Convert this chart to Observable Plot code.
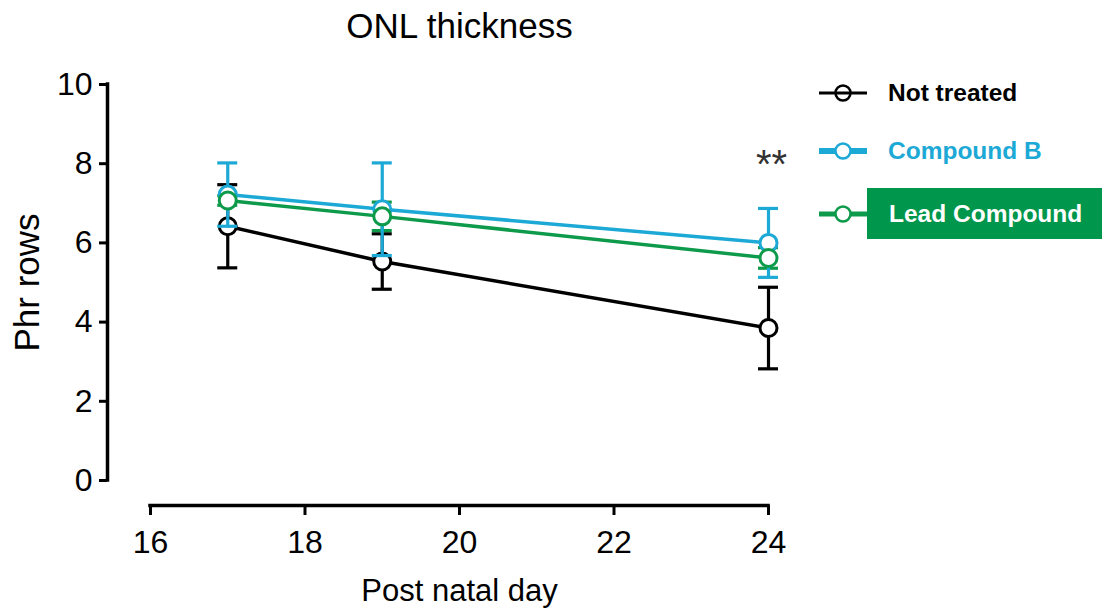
<!DOCTYPE html>
<html>
<head>
<meta charset="utf-8">
<script src="https://cdn.jsdelivr.net/npm/d3@7"></script>
<script src="https://cdn.jsdelivr.net/npm/@observablehq/plot@0.6"></script>
<style>
  html, body { margin: 0; padding: 0; background: #fff; }
  #wrap { position: relative; width: 1102px; height: 609px; font-family: "Liberation Sans", Arial, sans-serif; }
  .lg { position: absolute; font-weight: bold; font-size: 24.5px; height: 30px; line-height: 30px; white-space: nowrap; }
</style>
</head>
<body>
<div id="wrap"></div>
<script>
// ---- data ----
const days = [17, 19, 24];
const notTreatedMean = [6.42, 5.53, 3.85];
const notTreatedErr  = [1.05, 0.70, 1.03];
const compoundBMean  = [7.22, 6.85, 6.00];
const compoundBErr   = [0.80, 1.17, 0.87];
const leadMean       = [7.07, 6.67, 5.62];
const leadErr        = [0.12, 0.36, 0.26];
const seriesNames  = ["Not treated", "Compound B", "Lead Compound"];
const seriesColors = ["#000000", "#1CA9D6", "#0E9A4B"];
const xTicks = [16, 18, 20, 22, 24];
const yTicks = [0, 2, 4, 6, 8, 10];
const xDomain = [16, 24];
const yDomain = [0, 10];
const annotations = [{day: 24, value: 7.95, label: "**"}];
const titleText = "ONL thickness";
const xLabel = "Post natal day";
const yLabel = "Phr rows";

const means = [notTreatedMean, compoundBMean, leadMean];
const errs = [notTreatedErr, compoundBErr, leadErr];
const series = seriesNames.map((name, s) => days.map((d, i) => ({
  name, day: d, mean: means[s][i], lo: means[s][i] - errs[s][i], hi: means[s][i] + errs[s][i]
})));

function lineAndErr(s) {
  const data = series[s], c = seriesColors[s];
  return [
    Plot.line(data, {x: "day", y: "mean", stroke: c, strokeWidth: 3.5}),
    Plot.ruleX(data, {x: "day", y1: "lo", y2: "hi", stroke: c, strokeWidth: 3.2}),
    Plot.ruleY(data, {y: "hi", x1: "day", x2: "day", insetLeft: -10, insetRight: -10, stroke: c, strokeWidth: 3.2}),
    Plot.ruleY(data, {y: "lo", x1: "day", x2: "day", insetLeft: -10, insetRight: -10, stroke: c, strokeWidth: 3.2})
  ];
}
function dots(s) {
  return Plot.dot(series[s], {x: "day", y: "mean", r: 8.5, fill: "white", stroke: seriesColors[s], strokeWidth: 3});
}

const chart = Plot.plot({
  width: 1102,
  height: 609,
  marginLeft: 150,
  marginRight: 334,
  marginTop: 84,
  marginBottom: 129,
  style: {fontFamily: "'Liberation Sans', Arial, sans-serif", background: "white", color: "black"},
  x: {domain: xDomain, axis: null},
  y: {domain: yDomain, axis: null},
  marks: [
    Plot.ruleX([xDomain[0]], {y1: yDomain[0], y2: yDomain[1], dx: -43, strokeWidth: 3.5, strokeLinecap: "square"}),
    Plot.axisY({ticks: yTicks, tickSize: 8, dx: -43, tickPadding: 7, fontSize: 32, strokeWidth: 3, label: null}),
    Plot.ruleY([yDomain[0]], {x1: xDomain[0], x2: xDomain[1], dy: 25, strokeWidth: 3.5, strokeLinecap: "square"}),
    Plot.axisX({ticks: xTicks, tickSize: 10, dy: 25, tickPadding: 15, fontSize: 32, strokeWidth: 3, label: null}),
    ...lineAndErr(0), dots(0),
    ...lineAndErr(2),
    ...lineAndErr(1),
    dots(1), dots(2),
    Plot.text(annotations, {x: "day", y: "value", text: "label", fontSize: 40, dx: 3, fill: "#333"}),
    Plot.text([titleText], {frameAnchor: "top", dy: -47, lineAnchor: "bottom", fontSize: 35}),
    Plot.text([yLabel], {frameAnchor: "left", textAnchor: "middle", rotate: -90, dx: -112, lineAnchor: "bottom", fontSize: 35}),
    Plot.text([xLabel], {frameAnchor: "bottom", dy: 120, lineAnchor: "bottom", fontSize: 31})
  ]
});
const wrap = document.getElementById("wrap");
wrap.appendChild(chart);

// ---- legend ----
const legendRows = [93, 151, 214];
const lsvg = d3.create("svg").attr("width", 1102).attr("height", 609)
  .style("position", "absolute").style("left", 0).style("top", 0).style("pointer-events", "none");
lsvg.append("rect").attr("x", 867).attr("y", 188).attr("width", 235).attr("height", 51).attr("fill", "#00964B");
const lineW = [3, 6, 5];
seriesNames.forEach((n, s) => {
  const y = legendRows[s];
  lsvg.append("line").attr("x1", 819).attr("x2", 867).attr("y1", y).attr("y2", y)
    .attr("stroke", seriesColors[s]).attr("stroke-width", lineW[s]);
  lsvg.append("circle").attr("cx", 843).attr("cy", y).attr("r", 7.5)
    .attr("fill", s === 0 ? "none" : "white").attr("stroke", seriesColors[s]).attr("stroke-width", 2.5);
});
wrap.appendChild(lsvg.node());
const textColors = ["#000", "#1CA9D6", "#fff"];
seriesNames.forEach((n, s) => {
  const d = document.createElement("div");
  d.className = "lg";
  d.textContent = n;
  d.style.left = (s === 2 ? 889 : 888) + "px";
  d.style.top = (legendRows[s] - 15) + "px";
  d.style.color = textColors[s];
  wrap.appendChild(d);
});
</script>
</body>
</html>
